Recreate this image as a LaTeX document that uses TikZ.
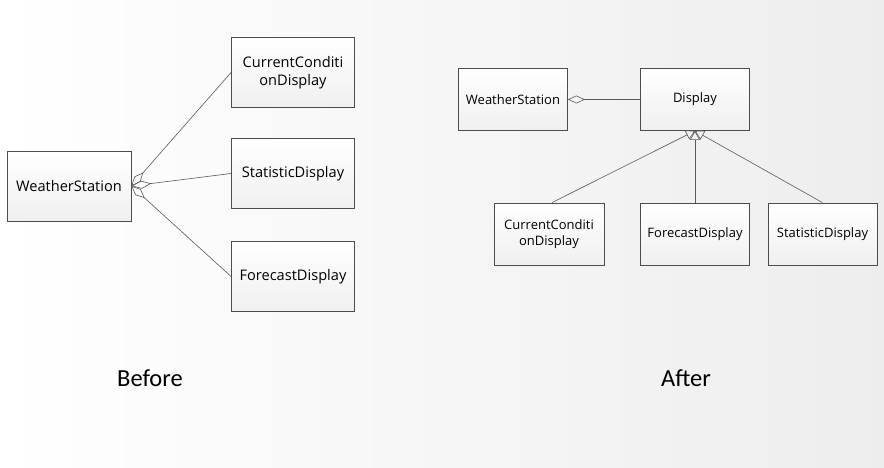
\documentclass[tikz,border=0pt]{standalone}
\usepackage{fontspec}
\setmainfont{Open Sans}
\newfontfamily\lblfont{Carlito}
\usetikzlibrary{arrows.meta}
\begin{document}
\begin{tikzpicture}[x=1pt,y=-1pt,
  cls/.style={draw=black!70, line width=0.8pt, top color=white, bottom color=black!6,
    align=center, inner sep=0pt, text=black},
  bigcls/.style={cls, minimum width=123pt, minimum height=70pt, font=\fontsize{14.6}{18.5}\selectfont},
  smallcls/.style={cls, minimum width=109pt, minimum height=62pt, font=\fontsize{13}{16.5}\selectfont},
  conn/.style={draw=black!65, line width=0.6pt},
  caption/.style={font=\lblfont\fontsize{24.5}{28}\selectfont, text=black}]
\useasboundingbox (0,0) rectangle (884,468);
\shade[left color=white, right color=black!7] (0,0) rectangle (884,468);
% Before
\node[bigcls, minimum width=124pt] (ws1) at (69,186) {WeatherStation};
\node[bigcls] (cc1) at (293,72.5) {CurrentConditi\\onDisplay};
\node[bigcls] (sd1) at (293,173.5) {StatisticDisplay};
\node[bigcls] (fd1) at (293,276.5) {ForecastDisplay};
\draw[conn, {Diamond[open, length=18pt, width=8pt]}-] (ws1.east) -- (cc1.west);
\draw[conn, {Diamond[open, length=20pt, width=8pt]}-] (ws1.east) -- (sd1.west);
\draw[conn, {Diamond[open, length=18pt, width=8pt]}-] (ws1.east) -- (fd1.west);
% After
\node[smallcls] (ws2) at (513,99.5) {WeatherStation};
\node[smallcls] (dp) at (695,99.5) {Display};
\node[smallcls, minimum width=110pt] (cc2) at (549,234) {CurrentConditi\\onDisplay};
\node[smallcls] (fd2) at (695,234) {ForecastDisplay};
\node[smallcls] (sd2) at (822.5,234) {StatisticDisplay};
\draw[conn, {Diamond[open, length=17pt, width=8pt]}-] (ws2.east) -- (dp.west);
\draw[conn, -{Triangle[open, length=9pt, width=10pt]}] (cc2.north) ++(3,0) coordinate (c1) (c1) -- (dp.south);
\draw[conn, -{Triangle[open, length=9pt, width=10pt]}] (fd2.north) -- (dp.south);
\draw[conn, -{Triangle[open, length=9pt, width=10pt]}] (sd2.north) -- (dp.south);
% Captions
\node[caption] (before) at (150,378) {Before};
\node[caption] (after) at (686,378) {After};
\end{tikzpicture}
\end{document}
